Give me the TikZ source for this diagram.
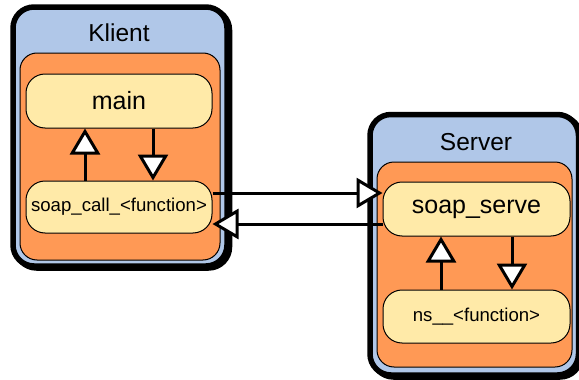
\documentclass[tikz,border=0pt]{standalone}
\usepackage{fontspec}
\setmainfont{Liberation Sans}
\usetikzlibrary{arrows.meta}
\definecolor{paneblue}{RGB}{176,199,232}
\definecolor{paneorange}{RGB}{255,153,85}
\definecolor{procyellow}{RGB}{255,234,168}
\tikzset{
  outerbox/.style={draw=black, fill=paneblue, line width=5.5pt, rounded corners=21pt, inner sep=0pt},
  shadowbox/.style={draw=black, fill=black, line width=5.5pt, rounded corners=21pt, inner sep=0pt},
  innerbox/.style={draw=black, fill=paneorange, line width=1pt, rounded corners=17pt, inner sep=0pt},
  procbox/.style={draw=black, fill=procyellow, line width=1pt, rounded corners=19pt, inner sep=0pt},
  title/.style={font=\fontsize{24.5}{29}\selectfont, inner sep=0pt},
  bigtext/.style={font=\fontsize{25}{30}\selectfont},
  smalltext/.style={font=\fontsize{18.6}{22}\selectfont},
  conn/.style={draw=black, line width=3pt, -{Triangle[fill=white, length=26pt, width=30pt]}}
}
\begin{document}
\begin{tikzpicture}[x=1pt, y=-1pt]
  \useasboundingbox (0,0) rectangle (579,380);
  \clip (0,0) rectangle (579,380);

  % client side
  \node[shadowbox, minimum width=214pt, minimum height=259pt] (kshadow) at (122.5,138.5) {};
  \node[outerbox, minimum width=214pt, minimum height=259pt] (klient) at (120,136.5) {};
  \node[title] (ktitle) at (119,33) {Klient};
  \node[innerbox, minimum width=200pt, minimum height=207pt] (kinner) at (120,156.5) {};
  \node[procbox, bigtext, minimum width=186pt, minimum height=54pt] (main) at (119,101) {main};
  \node[procbox, smalltext, minimum width=186pt, minimum height=52pt] (call) at (119,207) {soap\_call\_<function>};

  % server side
  \node[shadowbox, minimum width=208.5pt, minimum height=260.5pt] (sshadow) at (476.75,246.75) {};
  \node[outerbox, minimum width=208.5pt, minimum height=260.5pt] (server) at (474.25,244.75) {};
  \node[title] (stitle) at (476,142) {Server};
  \node[innerbox, minimum width=195pt, minimum height=205pt] (sinner) at (474.5,264.5) {};
  \node[procbox, bigtext, minimum width=187pt, minimum height=54pt] (serve) at (476.5,209) {soap\_serve};
  \node[procbox, smalltext, minimum width=187pt, minimum height=53pt] (ns) at (476.5,316.5) {ns\_\_<function>};

  % calls inside the client
  \draw[conn] ([xshift=-34pt]call.north) -- ([xshift=-34pt]main.south);
  \draw[conn] ([xshift=34pt]main.south) -- ([xshift=34pt]call.north);

  % calls inside the server
  \draw[conn] ([xshift=-35.5pt]ns.north) -- ([xshift=-35.5pt]serve.south);
  \draw[conn] ([xshift=35.5pt]serve.south) -- ([xshift=35.5pt]ns.north);

  % request and response
  \draw[conn] ([yshift=14pt]call.east) -- ([yshift=14pt]call.east -| serve.west);
  \draw[conn] ([yshift=-15pt]serve.west) -- ([yshift=-15pt]serve.west -| call.east);
\end{tikzpicture}
\end{document}
